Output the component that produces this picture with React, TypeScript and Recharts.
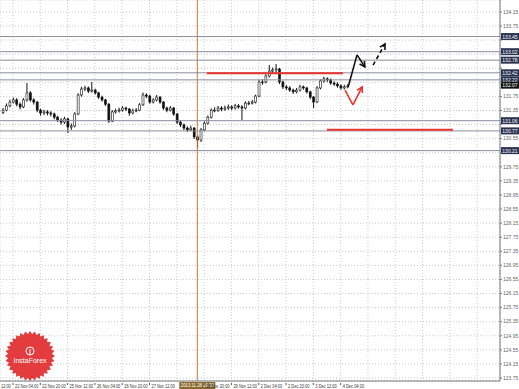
import React from "react";
import { ComposedChart, Bar, XAxis, YAxis, CartesianGrid, ReferenceLine } from "recharts";

// 2-hour slots, slot 0 = 22 Nov 04:00
const FIRST_SLOT = -3;
const FIRST_OPEN = 131.3;

const closes = [
  131.36, 131.48, 131.59, 131.65, 131.53, 131.45, 131.65, 131.85, 131.65, 131.59,
  131.36, 131.28, 131.31, 131.28, 131.25, 131.16, 131.08, 131.02, 131.11, 130.88,
  130.91, 131.25, 131.79, 131.96, 131.99, 131.9, 131.93, 131.85, 131.73, 131.65,
  131.53, 131.05, 131.31, 131.34, 131.36, 131.42, 131.39, 131.28, 131.34, 131.36,
  131.51, 131.79, 131.76, 131.59, 131.65, 131.73, 131.59, 131.42, 131.36, 131.42,
  131.25, 131.02, 130.94, 130.85, 130.8, 130.85, 130.6, 130.51, 130.8, 130.99,
  131.16, 131.36, 131.36, 131.42, 131.39, 131.42, 131.45, 131.42, 131.48, 131.45,
  131.42, 131.56, 131.56, 131.59, 131.76, 132.16, 132.16, 132.33, 132.47, 132.5,
  132.53, 132.16, 132.02, 131.99, 131.93, 131.88, 131.93, 132.02, 131.99, 131.88,
  131.73, 131.59, 131.99, 132.19, 132.25, 132.22, 132.13, 132.1, 132.05, 131.99,
  132.02, 132.05,
];

const highs = [
  131.42, 131.55, 131.66, 131.72, 131.7, 131.58, 131.7, 132.13, 131.9, 131.7,
  131.62, 131.4, 131.37, 131.36, 131.33, 131.29, 131.2, 131.13, 131.17, 131.14,
  130.98, 131.3, 131.84, 132.02, 132.05, 132.03, 132.16, 131.97, 131.88, 131.77,
  131.68, 131.56, 131.36, 131.4, 131.43, 131.47, 131.46, 131.42, 131.4, 131.42,
  131.56, 131.86, 131.84, 131.8, 131.7, 131.79, 131.76, 131.62, 131.46, 131.48,
  131.45, 131.28, 131.07, 130.98, 130.9, 130.92, 130.88, 130.65, 130.85, 131.04,
  131.21, 131.41, 131.44, 131.48, 131.47, 131.49, 131.52, 131.5, 131.54, 131.53,
  131.5, 131.61, 131.62, 131.65, 131.8, 132.21, 132.24, 132.38, 132.64, 132.57,
  132.67, 132.56, 132.2, 132.07, 132.04, 131.97, 131.99, 132.08, 132.06, 132.02,
  131.91, 131.76, 132.04, 132.24, 132.31, 132.29, 132.26, 132.18, 132.15, 132.09,
  132.08, 132.1,
];

const lows = [
  131.25, 131.33, 131.44, 131.55, 131.47, 131.38, 131.42, 131.6, 131.6, 131.52,
  131.3, 131.2, 131.22, 131.21, 131.18, 131.1, 131.02, 130.95, 130.97, 130.71,
  130.8, 130.87, 131.22, 131.74, 131.9, 131.85, 131.86, 131.8, 131.68, 131.6,
  131.48, 131.0, 131.02, 131.26, 131.29, 131.32, 131.33, 131.2, 131.24, 131.3,
  131.33, 131.48, 131.7, 131.54, 131.55, 131.61, 131.54, 131.37, 131.3, 131.32,
  131.2, 130.97, 130.88, 130.79, 130.74, 130.76, 130.54, 130.28, 130.46, 130.76,
  130.95, 131.12, 131.3, 131.31, 131.33, 131.34, 131.37, 131.36, 131.38, 131.4,
  131.08, 131.38, 131.5, 131.52, 131.55, 131.72, 132.08, 132.12, 132.29, 132.4,
  132.44, 132.1, 131.96, 131.93, 131.88, 131.82, 131.84, 131.89, 131.94, 131.83,
  131.67, 131.42, 131.56, 131.95, 132.14, 132.16, 132.08, 132.05, 132.0, 131.94,
  131.95, 131.98,
];

const timeSlots = [-8, 0, 8, 16, 24, 32, 40, 48, 56, 64, 72, 80, 88, 96, 104, 112, 120, 128, 136];
// the 28 Nov 04:00 label sits under the crosshair date box, so it shows nothing
const timeLabels = [
  "12:00", "22 Nov 04:00", "22 Nov 20:00", "25 Nov 12:00", "26 Nov 04:00",
  "26 Nov 20:00", "27 Nov 12:00", "", "28 Nov 20:00", "29 Nov 12:00",
  "2 Dec 04:00", "2 Dec 20:00", "3 Dec 12:00", "4 Dec 04:00",
];

const priceTicks = [
  123.75, 124.15, 124.55, 124.95, 125.35, 125.75, 126.15, 126.55, 126.95, 127.35,
  127.75, 128.15, 128.55, 128.95, 129.35, 129.75, 130.15, 130.55, 130.95, 131.35,
  131.75, 132.15, 132.55, 132.95, 133.35, 133.75, 134.15,
];

const levelPrices = [133.45, 133.02, 132.78, 132.42, 132.22, 131.06, 130.77, 130.21];
const currentPrice = 132.07;

// red support / resistance segments: [fromSlot, toSlot, price]
const redLevels = [
  [56.8, 96.7, 132.41],
  [92.0, 128.9, 130.8],
];

// forecast arrows as [slot, price] points
const blackPath = [[98.2, 132.02], [100.8, 132.93], [103.1, 132.59]];
const dashedPath = [[105.5, 132.64], [109.0, 133.24]];
const redPath = [[97.3, 131.93], [99.6, 131.51], [102.3, 132.02]];

const markerSlot = 54;
const markerText = "2013.11.28 16:00";

const candles = closes.map((close, i) => ({
  s: FIRST_SLOT + i,
  open: i === 0 ? FIRST_OPEN : closes[i - 1],
  high: highs[i],
  low: lows[i],
  close,
}));

const boxedPrices = [...levelPrices, currentPrice];

const FONT = "'Liberation Sans', Arial, sans-serif";

function Candle(props: any) {
  const { x, y, width, height, payload } = props;
  const top = Math.min(y, y + height);
  const h = Math.abs(height);
  const range = payload.high - payload.low || 0.01;
  const k = h / range;
  const yo = top + (payload.high - payload.open) * k;
  const yc = top + (payload.high - payload.close) * k;
  const cx = x + width / 2;
  const up = payload.close >= payload.open;
  const bTop = Math.min(yo, yc);
  const bH = Math.max(Math.abs(yc - yo), 0.8);
  return (
    <g>
      <line x1={cx} x2={cx} y1={top} y2={top + h} stroke="#111" strokeWidth={1} />
      <rect
        x={x}
        y={bTop}
        width={width}
        height={bH}
        fill={up ? "#fff" : "#111"}
        stroke="#111"
        strokeWidth={0.6}
      />
    </g>
  );
}

function TimeTick(props: any) {
  const { x, y, payload } = props;
  const idx = timeSlots.indexOf(payload.value);
  const label = timeLabels[idx];
  if (!label) return null;
  const tx = Math.max(x + 2, 1);
  return (
    <g>
      {x > 0 && <line x1={x} x2={x} y1={y} y2={y + 2} stroke="#555" />}
      <text
        x={tx}
        y={y + 5.2}
        fontSize={5}
        fill="#333"
        fontFamily={FONT}
        textAnchor="start"
        textLength={label.length * 1.95}
        lengthAdjust="spacingAndGlyphs"
      >
        {label}
      </text>
    </g>
  );
}

function PriceTick(props: any) {
  const { x, y, payload } = props;
  const v = payload.value as number;
  // labels hidden behind the boxed level prices
  if (boxedPrices.some((p) => Math.abs(p - v) < 0.17)) return null;
  return (
    <text x={x} y={y + 1.8} fontSize={5} fill="#666" fontFamily={FONT} textAnchor="start">
      {v.toFixed(2)}
    </text>
  );
}

function priceBox(value: number, fill: string) {
  return (props: any) => {
    const vb = props.viewBox;
    const bx = vb.x + vb.width + 1;
    return (
      <g>
        <rect x={bx} y={vb.y - 3.5} width={18} height={7} fill={fill} />
        <text x={bx + 9} y={vb.y + 2} fontSize={5} fill="#fff" textAnchor="middle" fontFamily={FONT}>
          {value.toFixed(2)}
        </text>
      </g>
    );
  };
}

function arrowShape(dashed: boolean, color: string) {
  return (props: any) => {
    const { x1, y1, x2, y2 } = props;
    const a = Math.atan2(y2 - y1, x2 - x1);
    const len = 6;
    const p1 = [x2 - len * Math.cos(a - 0.5), y2 - len * Math.sin(a - 0.5)];
    const p2 = [x2 - len * Math.cos(a + 0.5), y2 - len * Math.sin(a + 0.5)];
    return (
      <g>
        <line x1={x1} y1={y1} x2={x2} y2={y2} stroke={color} strokeWidth={1.6} strokeDasharray={dashed ? "4 3" : undefined} />
        <polyline
          points={`${p1[0]},${p1[1]} ${x2},${y2} ${p2[0]},${p2[1]}`}
          fill="none"
          stroke={color}
          strokeWidth={1.6}
        />
      </g>
    );
  };
}

function pathLines(path: number[][], color: string, dashed: boolean, key: string) {
  return path.slice(1).map((pt, i) => {
    const prev = path[i];
    const last = i === path.length - 2;
    return (
      <ReferenceLine
        key={key + i}
        segment={[{ x: prev[0], y: prev[1] }, { x: pt[0], y: pt[1] }]}
        stroke={color}
        strokeWidth={1.6}
        strokeDasharray={dashed ? "4 3" : undefined}
        shape={last ? arrowShape(dashed, color) : undefined}
      />
    );
  });
}

function Logo() {
  const cx = 26;
  const cy = 25;
  const n = 32;
  const pts: string[] = [];
  for (let i = 0; i < n * 2; i++) {
    const r = i % 2 === 0 ? 25 : 22;
    const a = (Math.PI * i) / n;
    pts.push(`${cx + r * Math.cos(a)},${cy + r * Math.sin(a)}`);
  }
  return (
    <svg width={52} height={52} style={{ position: "absolute", left: 4, top: 331 }}>
      <polygon points={pts.join(" ")} fill="#e23c3e" />
      <circle cx={cx} cy={cy - 5} r={4} fill="none" stroke="#fff" strokeWidth={1} />
      <line x1={cx} x2={cx} y1={cy - 7} y2={cy - 1} stroke="#fff" strokeWidth={1} />
      <text x={cx} y={cy + 7} fontSize={7} fill="#fff" textAnchor="middle" fontFamily={FONT}>
        InstaForex
      </text>
    </svg>
  );
}

export default function App() {
  return (
    <div style={{ position: "absolute", left: 0, top: 0, width: 519, height: 389, background: "#fff", fontFamily: FONT }}>
      <ComposedChart width={519} height={389} data={candles} margin={{ top: 0, right: 0, bottom: 0, left: 0 }}>
        <CartesianGrid stroke="#c9c9c9" strokeDasharray="1 2" />
        <XAxis
          dataKey="s"
          type="number"
          domain={[-3.81, 142.69]}
          allowDataOverflow
          ticks={timeSlots}
          height={8}
          tickSize={0}
          tick={<TimeTick />}
          tickLine={false}
          axisLine={{ stroke: "#777" }}
          interval={0}
        />
        <YAxis
          orientation="right"
          type="number"
          domain={[123.665, 134.489]}
          allowDataOverflow
          ticks={priceTicks}
          width={19}
          tickSize={2}
          tickMargin={1}
          interval={0}
          axisLine={{ stroke: "#777" }}
          tickLine={{ stroke: "#777" }}
          tick={<PriceTick />}
        />
        <ReferenceLine
          x={markerSlot}
          stroke="#c47a3a"
          label={(props: any) => {
            const vb = props.viewBox;
            return (
              <g>
                <rect x={vb.x - 18} y={382} width={36} height={7} fill="#8a6a2c" />
                <text
                  x={vb.x}
                  y={387.3}
                  fontSize={5}
                  fill="#fff"
                  textAnchor="middle"
                  fontFamily={FONT}
                  textLength={33}
                  lengthAdjust="spacingAndGlyphs"
                >
                  {markerText}
                </text>
              </g>
            );
          }}
        />
        {levelPrices.map((p) => (
          <ReferenceLine key={p} y={p} stroke="#8b8c9c" strokeWidth={1} label={priceBox(p, "#2a3350")} />
        ))}
        <ReferenceLine y={currentPrice} stroke="none" label={priceBox(currentPrice, "#111")} />
        <Bar dataKey={(d: any) => [d.low, d.high]} barSize={2} shape={<Candle />} isAnimationActive={false} />
        {redLevels.map((r, i) => (
          <ReferenceLine
            key={"red" + i}
            segment={[{ x: r[0], y: r[2] }, { x: r[1], y: r[2] }]}
            stroke="#e8322c"
            strokeWidth={2}
          />
        ))}
        {pathLines(blackPath, "#111", false, "b")}
        {pathLines(dashedPath, "#111", true, "d")}
        {pathLines(redPath, "#e8322c", false, "r")}
      </ComposedChart>
      <Logo />
    </div>
  );
}
